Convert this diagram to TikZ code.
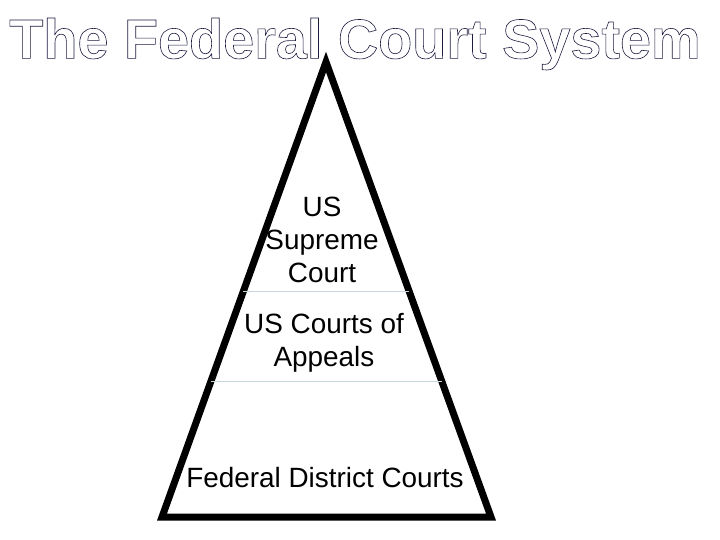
\documentclass[tikz,border=0pt]{standalone}
\usepackage{fontspec}
\setmainfont{Liberation Sans}
\usetikzlibrary{positioning,calc}
\definecolor{ink}{HTML}{000000}
\definecolor{titleink}{HTML}{1C1C40}
\definecolor{divider}{HTML}{C6D8DC}
\tikzset{
  pyr/.style={draw=ink, line width=7bp, line join=miter},
  tier/.style={align=center, font=\fontsize{28}{33}\selectfont, text=ink, inner sep=0pt},
  sep/.style={draw=divider, line width=1bp},
  ttl/.style={font=\fontsize{56}{60}\selectfont\bfseries, text=titleink, inner sep=0pt},
}
% hollow (stroked only) letters
\newcommand{\hollow}[1]{\special{pdf:literal direct 1 Tr 0.6 w}#1\special{pdf:literal direct 0 Tr}}

\begin{document}
\begin{tikzpicture}[x=1bp,y=-1bp]
  \useasboundingbox (0,0) rectangle (720,540);
  % pyramid corners
  \coordinate (top) at (326,62);
  \coordinate (bl)  at (162,517);
  \coordinate (br)  at (491,517);
  \draw[pyr] (top) -- (br) -- (bl) -- cycle;
  % tier dividers
  \coordinate (d1l) at ($(top)!0.505!(bl)$);
  \coordinate (d1r) at ($(top)!0.505!(br)$);
  \coordinate (d2l) at ($(top)!0.703!(bl)$);
  \coordinate (d2r) at ($(top)!0.703!(br)$);
  \draw[sep] (d1l) -- (d1r);
  \draw[sep] (d2l) -- (d2r);
  % tiers
  \node[tier] (supreme) at (322,240) {US\\ Supreme\\ Court};
  \node[tier] (appeals) at (324,343) {US Courts of\\ Appeals};
  \node[tier] (district) at (325,478) {Federal District Courts};
  % title
  \node[ttl] (title) at (355,44) {\hollow{The Federal Court System}};
\end{tikzpicture}
\end{document}
